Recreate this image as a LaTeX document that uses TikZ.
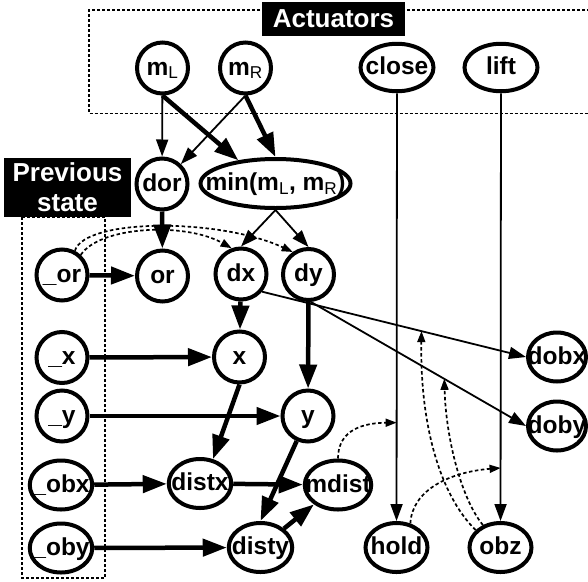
\documentclass[tikz,border=0pt]{standalone}
\usepackage{fontspec}
\setmainfont{Liberation Sans}
\usetikzlibrary{arrows.meta}
\usetikzlibrary{shapes.geometric}

\newcommand{\sub}[1]{\textsubscript{\mdseries #1}}

\begin{document}
\begin{tikzpicture}[x=1pt,y=1pt,yscale=-1,xscale=1,
  every label/.style={inner sep=0pt,text height=17.5pt,text depth=3pt,font=\fontsize{24.5}{27}\selectfont\bfseries},
  var/.style={circle,draw,line width=4pt,minimum size=51pt,inner sep=0pt,label={center:#1}},
  evar/.style={ellipse,draw,line width=4pt,minimum height=49pt,inner sep=0pt,label={center:#1}},
  heavy/.style={line width=4.5pt,-{Triangle[length=24pt,width=17pt]}},
  light/.style={line width=1.8pt,-{Triangle[length=17pt,width=12pt]}},
  hint/.style={line width=1.7pt,dash pattern=on 3.5pt off 2.5pt,-{Triangle[length=11pt,width=8pt]}},
  group/.style={line width=1.3pt,dash pattern=on 3pt off 2pt},
  tag/.style={fill=black,text=white,inner sep=0pt,align=center,font=\fontsize{26}{30}\selectfont\bfseries}]
\useasboundingbox (0,0) rectangle (588,581);

%Shape: Dashed boxes
\draw[group] (600,10) -- (89,10) -- (89,113.5) -- (600,113.5);
\draw[group] (22,217) rectangle (105,578);

% Text Node: group labels
\node[tag,minimum width=143pt,minimum height=34pt] (acttag) at (333.5,19) {Actuators};
\node[tag,minimum width=127pt,minimum height=59pt] (prevtag) at (67.5,187.5) {Previous\\state};

%Shape: actuators
\node[var={m\sub{L}}] (mL) at (162.5,68) {};
\node[var={m\sub{R}}] (mR) at (245.5,68) {};
\node[evar={close},minimum width=73pt,minimum height=47.5pt] (close) at (397,67.5) {};
\node[evar={lift},minimum width=73pt,minimum height=47.5pt] (lift) at (501,67.5) {};

%Shape: second row
\node[var={dor}] (dor) at (162,184) {};
\node[evar={min(m\sub{L}, m\sub{R})},minimum width=150pt] (minLR) at (275.5,183.5) {};

%Shape: previous state
\node[var={\_or}] (prevor) at (62,275) {};
\node[var={\_x}] (prevx) at (62,357.5) {};
\node[var={\_y}] (prevy) at (62,416) {};
\node[evar={\_obx},minimum width=62.5pt] (prevobx) at (61,485) {};
\node[evar={\_oby},minimum width=62.5pt] (prevoby) at (61,548) {};

%Shape: current state
\node[var={or}] (ori) at (162.5,276) {};
\node[var={dx}] (dx) at (241,274) {};
\node[var={dy}] (dy) at (308.5,274.5) {};
\node[var={x}] (xpos) at (239.5,357) {};
\node[var={y}] (ypos) at (308,416) {};
\node[evar={distx},minimum width=62.5pt] (distx) at (200,483.5) {};
\node[evar={mdist},minimum width=66.5pt] (mdist) at (338,485) {};
\node[evar={disty},minimum width=63.5pt] (disty) at (260.5,547.5) {};
\node[evar={hold},minimum width=62pt] (hold) at (396.5,547.5) {};
\node[evar={obz},minimum width=62pt] (obz) at (500.5,547.5) {};
\node[evar={dobx},minimum width=58pt] (dobx) at (557,357) {};
\node[evar={doby},minimum width=58pt] (doby) at (557,426) {};

% Arrows: actuators
\draw[light] (mL) -- (dor);
\draw[heavy] (mL.south) -- (minLR.148);
\draw[light] (mR.south) -- (dor);
\draw[heavy] (mR.south) -- (minLR.north);
\draw[light] (close) -- (hold) coordinate[pos=0.77] (holdhit);
\draw[light] (lift) -- (obz) coordinate[pos=0.876] (obzhit);

% Arrows: motion
\draw[heavy] (dor) -- (ori);
\draw[heavy] (prevor) -- (ori);
\draw[light] (minLR.south) -- (dx.north);
\draw[light] (minLR.south) -- (dy.north);
\draw[heavy] (dx) -- (xpos);
\draw[heavy] (dy) -- (ypos);
\draw[heavy] (prevx) -- (xpos);
\draw[heavy] (prevy) -- (ypos);
\draw[light] (dx.-40) -- (dobx.west) coordinate[pos=0.604] (obxhit);
\draw[light] (dy.-85) -- (doby.west) coordinate[pos=0.62] (obyhit);

% Arrows: distances
\draw[heavy] (xpos.south) -- (distx.62);
\draw[heavy] (ypos) -- (disty.north);
\draw[heavy] (prevobx) -- (distx);
\draw[heavy] (distx) -- (mdist);
\draw[heavy] (prevoby) -- (disty);
\draw[heavy] (disty) -- (mdist);

% Arrows: context (dashed)
\draw[hint] (prevor.47) .. controls (100,226) and (185,222) .. (dx.110);
\draw[hint] (prevor.62) .. controls (85,218) and (220,218) .. (dy.125);
\draw[hint] (mdist.north) .. controls (338,435) and (355,423) .. (holdhit);
\draw[hint] (hold.60) .. controls (412,490) and (450,472) .. (obzhit);
\draw[hint] (obz.145) .. controls (440,495) and (420,425) .. (obxhit);
\draw[hint] (obz.128) .. controls (462,500) and (446,440) .. (obyhit);

\end{tikzpicture}
\end{document}
